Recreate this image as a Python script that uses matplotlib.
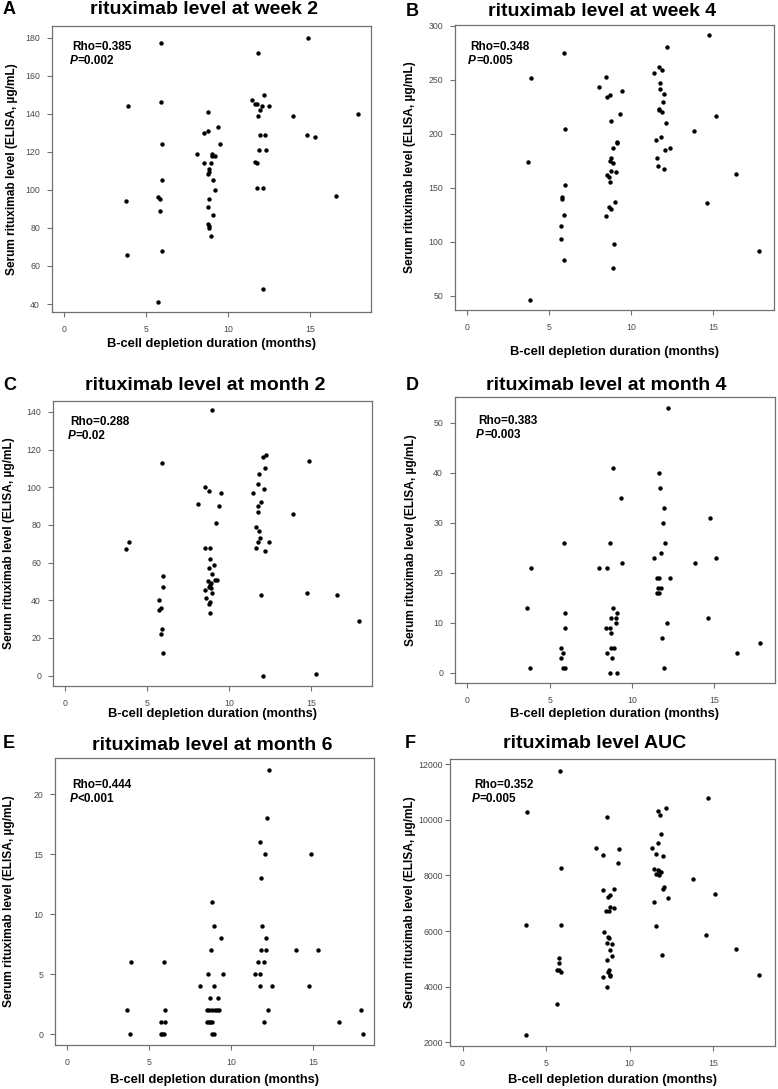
import numpy as np
import matplotlib
matplotlib.use('Agg')
from matplotlib import pyplot as plt

plt.rcParams['font.family'] = ['Liberation Sans', 'DejaVu Sans']

W, H = 778, 1089

# panel A: week 2
a_x = [3.77, 3.87, 3.83, 5.91, 5.91, 5.97, 5.97, 5.72, 5.82, 5.85, 5.95, 5.74,
       8.1, 8.53, 8.53, 8.74, 8.74, 9.39, 9.49, 9.0, 9.0, 9.2, 8.94, 8.82, 8.84,
       8.74, 9.06, 9.2, 8.84, 8.74, 9.08, 8.76, 8.82, 8.84, 8.92,
       11.47, 11.65, 11.75, 12.2, 11.81, 12.04, 12.46, 11.91, 11.81, 11.93,
       12.22, 11.85, 12.28, 11.65, 11.75, 11.73, 12.1, 12.12,
       14.87, 13.95, 14.77, 15.27, 17.92, 16.58]
a_y = [94, 144, 66, 177, 146, 124, 105, 96, 95, 89, 68, 41,
       119, 114, 130, 131, 141, 133, 124, 119, 118, 118, 114, 111, 109.6,
       108.3, 105, 100, 95, 91, 87, 82, 81, 80, 76,
       147, 145.3, 145.3, 150, 172, 144, 144, 142, 139, 129,
       129, 121, 121, 114.8, 114, 101, 101, 48,
       180, 139, 129, 128, 140, 97]

# panel B: week 4
b_x = [3.87, 3.68, 3.85, 5.88, 5.94, 5.94, 5.80, 5.80, 5.92, 5.70, 5.70, 5.88,
       8.03, 8.48, 8.5, 8.68, 9.42, 9.32, 8.78, 9.12, 9.12, 8.9, 8.78, 8.68,
       8.88, 8.78, 9.04, 8.52, 8.66, 8.70, 9.02, 8.66, 8.78, 8.44, 8.92, 8.88,
       11.38, 11.66, 11.86, 12.16, 11.74, 11.72, 12.02, 11.94, 11.66, 11.70,
       11.88, 12.14, 11.78, 11.52, 12.36, 12.08, 11.54, 11.64, 12.0,
       14.74, 13.81, 15.14, 14.62, 16.41, 17.76]
b_y = [252, 174, 46, 275, 204.5, 152.6, 141.8, 139.6, 124.8, 114.9, 102.8, 83,
       243.4, 252.4, 234.5, 235.7, 239.4, 218.4, 211.6, 192.8, 191.2, 186.6,
       177.6, 174.8, 173.3, 165.6, 164.6, 161.9, 160.3, 155.7, 136.8, 131.9,
       130.7, 123.9, 97.9, 76,
       256.7, 262.3, 259.5, 280.5, 247.5, 241.3, 236.6, 229.9, 223.4, 221.8,
       220.6, 209.8, 197.4, 194.6, 186.9, 185, 177.9, 169.9, 167.7,
       291.3, 202.7, 216.9, 135.9, 162.8, 91]

# panel C: month 2
c_x = [3.68, 3.88, 5.89, 5.96, 5.96, 5.73, 5.73, 5.85, 5.89, 5.83, 5.93,
       8.92, 8.54, 8.74, 9.47, 8.11, 9.39, 9.19, 8.54, 8.82, 8.82, 9.07, 8.74,
       8.96, 9.15, 9.23, 8.72, 8.9, 8.80, 8.76, 8.86, 8.50, 8.96, 8.58, 8.82,
       8.74, 8.82,
       12.26, 12.05, 12.17, 11.81, 11.75, 11.46, 12.11, 11.95, 11.75, 11.75,
       11.61, 11.81, 11.87, 11.73, 12.44, 11.63, 12.19, 11.95, 12.07,
       13.9, 14.88, 14.74, 15.26, 16.57, 17.89]
c_y = [67, 71, 113, 53, 47, 40, 35, 36, 25, 22, 12,
       141, 100, 98, 97, 91, 90, 81, 68, 68, 62, 59, 57,
       54, 51, 51, 50, 49, 48, 47, 46.4, 45.4, 44, 41, 39.3,
       38, 33,
       117, 116, 110, 107, 102, 97, 99, 92, 90, 87,
       79, 77, 73, 71, 71, 68, 66, 43, 0,
       86, 114, 44, 1, 43, 29]

# panel D: month 4
d_x = [3.85, 3.65, 3.81, 5.85, 5.93, 5.93, 5.69, 5.79, 5.69, 5.79, 5.93,
       8.87, 9.31, 8.65, 8.02, 8.47, 9.42, 8.87, 9.11, 8.75, 9.01, 9.01, 8.43,
       8.65, 8.71, 8.75, 8.89, 8.49, 8.77, 8.65, 9.11,
       12.22, 11.67, 11.73, 11.96, 11.88, 12.04, 11.77, 11.37, 11.53, 11.65,
       12.34, 11.61, 11.75, 11.51, 11.67, 12.12, 11.85, 11.98,
       14.74, 13.81, 15.14, 14.62, 16.41, 17.76]
d_y = [21, 13, 1, 26, 12, 9, 5, 4, 3, 1, 1,
       41, 35, 26, 21, 21, 22, 13, 12, 11, 11, 10, 9,
       9, 8, 5, 5, 4, 3, 0, 0,
       53, 40, 37, 33, 30, 26, 24, 23, 19, 19,
       19, 17, 17, 16, 16, 10, 7, 1,
       31, 22, 23, 11, 4, 6]

# panel E: month 6
e_x = [3.66, 3.87, 3.85, 5.92, 5.98, 5.74, 5.94, 5.70, 5.78, 5.90,
       8.83, 8.93, 9.40, 8.75, 8.55, 9.49, 8.10, 8.93, 8.73, 9.2,
       8.51, 8.65, 8.83, 9.02, 9.12, 9.22, 8.49, 8.65, 8.73, 8.85, 8.85, 8.96,
       12.29, 12.19, 11.76, 12.05, 11.83, 11.87, 12.09, 11.83, 12.11, 11.62,
       11.97, 11.46, 11.74, 11.76, 12.46, 12.21, 11.97,
       14.88, 13.92, 15.29, 14.76, 16.57, 17.91, 18.03]
e_y = [2, 6, 0, 6, 2, 1, 1, 0, 0, 0,
       11, 9, 8, 7, 5, 5, 4, 4, 3, 3,
       2, 2, 2, 2, 2, 2, 1, 1, 1, 1, 0, 0,
       22, 18, 16, 15, 13, 9, 8, 7, 7, 6,
       6, 5, 5, 4, 4, 2, 1,
       15, 7, 7, 4, 1, 2, 0]

# panel F: AUC
f_x = [5.83, 3.84, 3.78, 3.80, 5.91, 5.91, 5.75, 5.75, 5.65, 5.79, 5.87, 5.67,
       8.63, 8.0, 8.43, 9.37, 9.29, 8.41, 9.09, 8.83, 8.71, 8.61, 8.75, 8.83,
       9.07, 8.47, 8.69, 8.75, 8.63, 8.97, 8.83, 8.95, 8.63, 8.75, 8.71, 8.81,
       8.85, 8.41, 8.63,
       12.15, 11.68, 11.82, 11.9, 11.68, 11.32, 11.60, 12.02, 11.46, 11.68,
       11.78, 11.86, 11.58, 11.74, 12.06, 11.98, 12.29, 11.48, 11.58, 11.94,
       14.72, 13.77, 15.08, 14.58, 16.35, 17.72]
f_y = [11770, 10270, 6220, 2280, 8260, 6220, 5030, 4840, 4600, 4600, 4540, 3380,
       10110, 8990, 8730, 8970, 8460, 7480, 7500, 7290, 7230, 6740, 6740, 6870,
       6820, 5980, 5800, 5740, 5570, 5540, 5330, 5120, 4970, 4590, 4520, 4420,
       4400, 4340, 3990,
       10440, 10330, 10170, 9490, 9180, 8990, 8780, 8690, 8250, 8190,
       8160, 8130, 8040, 8020, 7600, 7520, 7190, 7050, 6170, 5140,
       10770, 7890, 7320, 5860, 5370, 4410]

titles = ['rituximab level at week 2', 'rituximab level at week 4',
          'rituximab level at month 2', 'rituximab level at month 4',
          'rituximab level at month 6', 'rituximab level AUC']
letters = ['A', 'B', 'C', 'D', 'E', 'F']
rhos = ['0.385', '0.348', '0.288', '0.383', '0.444', '0.352']
pvals = ['=0.002', '=0.005', '=0.02', '=0.003', '<0.001', '=0.005']

xs = [a_x, b_x, c_x, d_x, e_x, f_x]
ys = [a_y, b_y, c_y, d_y, e_y, f_y]

yticks = [np.arange(40, 181, 20), np.arange(50, 301, 50), np.arange(0, 141, 20),
          np.arange(0, 51, 10), np.arange(0, 21, 5), np.arange(2000, 12001, 2000)]
ylims = [(35.8, 186.1), (36.7, 300.9), (-5.5, 145.8), (-2.0, 55.2), (-0.9, 23.0), (1867, 12190)]

# axes boxes in pixels: left, right, top, bottom
boxes = [(52, 371, 26, 312), (455, 774, 25, 310),
         (53, 372, 401, 686), (455, 775, 397, 683),
         (55, 374, 758, 1045), (450, 775, 759, 1046)]
title_pos = [(204, 10), (602, 11), (205, 386), (606, 385), (212, 745), (595, 743)]
letter_pos = [(3, 10), (406, 11), (3, 385), (406, 385), (3, 744), (405, 743)]
stat_pos = [(72, 47), (470, 47), (70, 422), (478, 421), (72, 785), (474, 785)]
ylab_x = [12, 410, 9, 411, 9, 410]
xlab_y = [344, 352, 714, 714, 1080, 1080]
ypads = [5, 5, 5, 5, 5, 1.5]


def fx(x):
    return x / W


def fy(y):
    return 1 - y / H


fig = plt.figure(figsize=(W / 100, H / 100), dpi=100)

for i in range(6):
    l, r, t, b = boxes[i]
    ax = fig.add_axes([fx(l), fy(b), (r - l) / W, (b - t) / H])
    ax.scatter(xs[i], ys[i], s=10, c='black', linewidths=0)
    ax.set_xlim(-0.75, 18.7)
    ax.set_ylim(*ylims[i])
    ax.set_xticks([0, 5, 10, 15])
    ax.set_yticks(yticks[i])
    for sp in ax.spines.values():
        sp.set_color('#707070')
        sp.set_linewidth(0.9)
    ax.tick_params(colors='#707070', labelcolor='#4a4a4a', labelsize=6.3,
                   length=3.6, width=0.8)
    ax.tick_params(axis='x', pad=6)
    ax.tick_params(axis='y', pad=ypads[i])

    # titles, letters, stats, labels
    fig.text(fx(title_pos[i][0]), fy(title_pos[i][1]), titles[i], ha='center', va='center',
             fontsize=14, fontweight='bold')
    fig.text(fx(letter_pos[i][0]), fy(letter_pos[i][1]), letters[i], ha='left', va='center',
             fontsize=13, fontweight='bold')
    sx, sy = stat_pos[i]
    fig.text(fx(sx), fy(sy), 'Rho=' + rhos[i], ha='left', va='center',
             fontsize=8.5, fontweight='bold')
    fig.text(fx(sx - 2), fy(sy + 14), 'P', ha='left', va='center',
             fontsize=8.5, fontweight='bold', fontstyle='italic')
    fig.text(fx(sx + 6), fy(sy + 14), pvals[i], ha='left', va='center',
             fontsize=8.5, fontweight='bold')
    fig.text(fx(ylab_x[i]), fy((t + b) / 2), 'Serum rituximab level (ELISA, µg/mL)',
             rotation=90, ha='center', va='center', fontsize=8.6, fontweight='bold')
    fig.text(fx((l + r) / 2), fy(xlab_y[i]), 'B-cell depletion duration (months)',
             ha='center', va='center', fontsize=9.3, fontweight='bold')

fig.savefig('out.png', dpi=100)
